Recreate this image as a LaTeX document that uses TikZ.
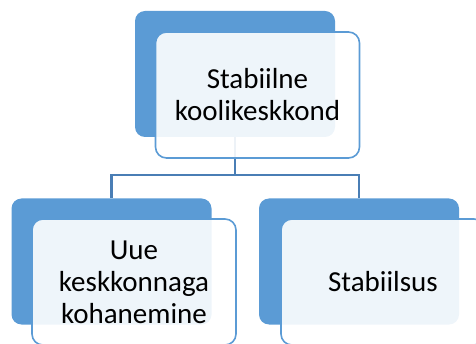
\documentclass[tikz,border=0pt]{standalone}
\usepackage{fontspec}
\setmainfont{Carlito}
\definecolor{accent}{HTML}{5B9BD5}
\definecolor{linkline}{HTML}{4A7EB5}
\tikzset{
  backbox/.style={draw=none, fill=accent, rounded corners=10pt,
    minimum width=200pt, minimum height=126pt, inner sep=0pt},
  frontbox/.style={draw=accent, line width=1.6pt, fill=white, fill opacity=0.9,
    text opacity=1, rounded corners=11pt, minimum width=204pt, minimum height=126pt,
    inner sep=0pt, align=center, text=black,
    font=\fontsize{29}{32}\selectfont},
  link/.style={draw=linkline, line width=2.4pt}
}
\begin{document}
\begin{tikzpicture}[x=1pt, y=-1pt]
  \clip (0,0) rectangle (476,344);
  % coloured back panels
  \node[backbox] (topback)   at (235,74) {};
  \node[backbox] (leftback)  at (111.5,261.5) {};
  \node[backbox] (rightback) at (359,261.5) {};
  % tree connectors
  \coordinate (junction) at (235,175);
  \draw[link] (topback.south) -- (junction) -| (leftback.north);
  \draw[link] (junction) -| (rightback.north);
  % light front cards with the labels
  \node[frontbox] (top)   at (257.5,95) {Stabiilne\\koolikeskkond};
  \node[frontbox] (left)  at (134,282)  {Uue\\keskkonnaga\\kohanemine};
  \node[frontbox] (right) at (383,282)  {Stabiilsus};
\end{tikzpicture}
\end{document}
